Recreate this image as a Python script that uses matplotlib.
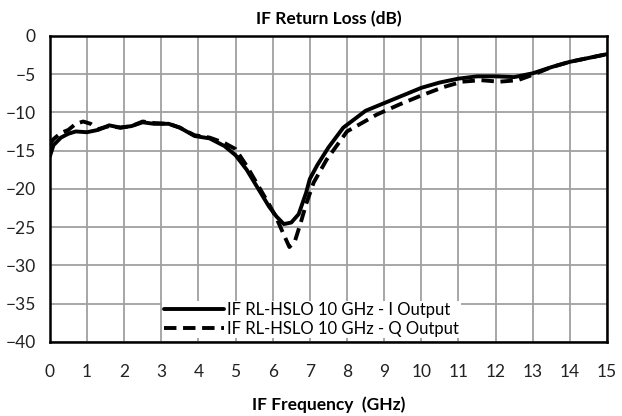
import matplotlib.pyplot as plt
import numpy as np

plt.rcParams['font.family'] = ['Lato', 'DejaVu Sans']

# IF return loss, HSLO 10 GHz
freq_i = [0.0, 0.1, 0.3, 0.5, 0.7, 1.0, 1.3, 1.6, 1.9, 2.2, 2.5, 2.8, 3.2, 3.5,
          3.9, 4.3, 4.7, 5.0, 5.3, 5.6, 5.9, 6.1, 6.3, 6.5, 6.7, 6.9, 7.0, 7.2,
          7.5, 7.9, 8.5, 9.1, 9.6, 10.0, 10.5, 11.0, 11.5, 12.0, 12.5, 13.0,
          13.5, 14.0, 14.5, 15.0]
rl_i = [-15.8, -14.3, -13.3, -12.8, -12.5, -12.6, -12.3, -11.7, -12.0, -11.8,
        -11.3, -11.5, -11.5, -12.0, -13.1, -13.4, -14.4, -15.6, -17.5, -19.9,
        -22.3, -23.6, -24.6, -24.4, -23.3, -20.5, -18.7, -16.9, -14.6, -12.0,
        -9.8, -8.6, -7.6, -6.8, -6.1, -5.6, -5.3, -5.3, -5.4, -4.9, -4.1,
        -3.4, -2.9, -2.4]

freq_q = [0.0, 0.1, 0.3, 0.5, 0.7, 0.9, 1.1, 1.3, 1.6, 1.9, 2.2, 2.5, 2.8, 3.2,
          3.5, 3.9, 4.3, 4.7, 5.0, 5.3, 5.6, 5.9, 6.1, 6.3, 6.45, 6.6, 6.75,
          6.9, 7.1, 7.45, 8.0, 8.8, 9.4, 10.0, 10.6, 11.1, 11.6, 12.1, 12.6,
          13.0, 13.5, 14.0, 14.5, 15.0]
rl_q = [-14.2, -13.5, -12.7, -12.3, -11.5, -11.2, -11.5, -12.2, -11.8, -12.0,
        -11.8, -11.2, -11.4, -11.5, -12.0, -13.0, -13.3, -14.0, -14.8, -17.0,
        -19.5, -22.0, -23.8, -26.0, -27.6, -26.8, -24.5, -22.0, -19.2, -16.2,
        -12.5, -10.3, -9.0, -7.8, -6.7, -6.0, -5.8, -6.0, -5.8, -5.1, -4.1,
        -3.4, -2.9, -2.4]

fig = plt.figure(figsize=(6.22, 4.16), dpi=100)
ax = fig.add_axes([0.080, 0.178, 0.896, 0.736])

ax.plot(freq_i, rl_i, color='black', lw=2.8, solid_capstyle='round',
        label='IF RL-HSLO 10 GHz - I Output')
ax.plot(freq_q, rl_q, color='black', lw=2.8, ls=(0, (3.2, 1.7)),
        label='IF RL-HSLO 10 GHz - Q Output')

ax.set_xlim(0, 15)
ax.set_ylim(-40, 0)
ax.set_xticks(np.arange(0, 16, 1))
ax.set_yticks(np.arange(-40, 1, 5))
ax.grid(True, color='#a0a0a0', lw=1.3)
ax.set_axisbelow(True)
ax.tick_params(length=0, labelsize=12.5, colors='#222222')
ax.tick_params(axis='x', pad=16)
ax.tick_params(axis='y', pad=10)
for s in ax.spines.values():
    s.set_linewidth(1.8)
    s.set_color('black')

ax.set_title('IF Return Loss (dB)', fontsize=12.5, fontweight='bold', pad=8)
ax.set_xlabel('IF Frequency  (GHz)', fontsize=12.5, fontweight='bold', labelpad=12)

leg = ax.legend(loc='lower center', bbox_to_anchor=(0.47, -0.005), fontsize=12,
                frameon=True, fancybox=False, handlelength=3.6, handletextpad=0.2,
                borderpad=0.1, labelspacing=0.15, borderaxespad=0.3)
leg.get_frame().set_edgecolor('none')
leg.get_frame().set_facecolor('white')
leg.get_frame().set_alpha(1)

plt.savefig('out.png', dpi=100)
